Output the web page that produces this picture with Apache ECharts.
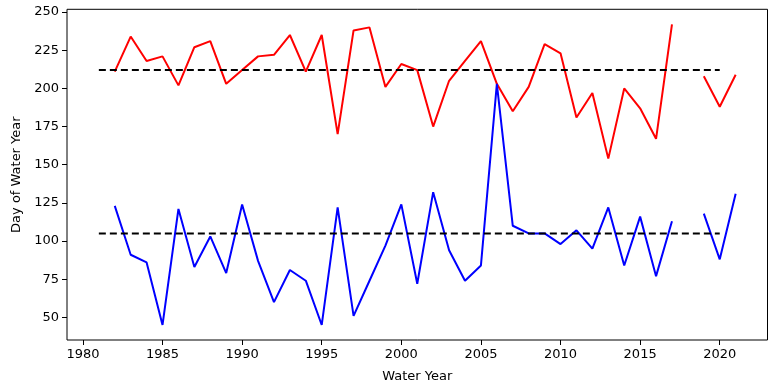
<!DOCTYPE html>
<html><head><meta charset="utf-8">
<script src="https://cdn.jsdelivr.net/npm/echarts@6/dist/echarts.min.js"></script>
<style>html,body{margin:0;padding:0;background:#fff}#c{width:772px;height:388px}</style>
</head><body><div id="c"></div>
<script>
const years = [1982,1983,1984,1985,1986,1987,1988,1989,1990,1991,1992,1993,1994,1995,1996,1997,1998,1999,2000,2001,2002,2003,2004,2005,2006,2007,2008,2009,2010,2011,2012,2013,2014,2015,2016,2017,2018,2019,2020,2021];
const lateDay = [211,234,218,221,202,227,231,203,212,221,222,235,211,235,170,238,240,201,216,212,175,205,218,231,203,185,201,229,223,181,197,154,200,187,167,242,null,208,188,209];
const earlyDay = [123,91,86,45,121,83,103,79,124,87,60,81,74,45,122,51,74,97,124,72,132,94,74,84,203,110,105,105,98,107,95,122,84,116,77,113,null,118,88,131];
const lateMean = 212;
const earlyMean = 105;
const meanSpan = [1981, 2020];
const xTicks = [1980,1985,1990,1995,2000,2005,2010,2015,2020];
const yTicks = [50,75,100,125,150,175,200,225,250];

const pair = (xs, ys) => xs.map((x,i)=>[x, ys[i] === null ? '-' : ys[i]]);
const font = {fontFamily:'DejaVu Sans', fontSize:13, color:'#000'};
const chart = echarts.init(document.getElementById('c'), null, {renderer:'canvas'});
chart.setOption({
  animation:false,
  backgroundColor:'#fff',
  grid:{left:67, right:4.5, top:9.3, bottom:47, show:true, borderColor:'#000', borderWidth:1, backgroundColor:'transparent'},
  xAxis:{type:'value', min:1979, max:2023,
    name:'Water Year', nameLocation:'middle', nameGap:30, nameTextStyle:font,
    axisLine:{show:false}, splitLine:{show:false},
    axisTick:{show:true, length:5, customValues:xTicks, lineStyle:{color:'#000'}},
    axisLabel:Object.assign({customValues:xTicks, margin:8, formatter:v=>String(v)}, font)},
  yAxis:{type:'value', min:35.15, max:251.85,
    name:'Day of Water Year', nameLocation:'middle', nameGap:43, nameTextStyle:font,
    axisLine:{show:false}, splitLine:{show:false},
    axisTick:{show:true, length:5, customValues:yTicks, lineStyle:{color:'#000'}},
    axisLabel:Object.assign({customValues:yTicks, margin:8, formatter:v=>String(v)}, font)},
  series:[
    {type:'line', data:pair(years, lateDay), symbol:'none', connectNulls:false, lineStyle:{color:'#ff0000', width:2}, z:2},
    {type:'line', data:pair(years, earlyDay), symbol:'none', connectNulls:false, lineStyle:{color:'#0000ff', width:2}, z:2},
    {type:'line', data:meanSpan.map(x=>[x, lateMean]), symbol:'none', lineStyle:{color:'#000', width:2, type:[7,4]}, z:3},
    {type:'line', data:meanSpan.map(x=>[x, earlyMean]), symbol:'none', lineStyle:{color:'#000', width:2, type:[7,4]}, z:3}
  ]
});
</script>
</body></html>
